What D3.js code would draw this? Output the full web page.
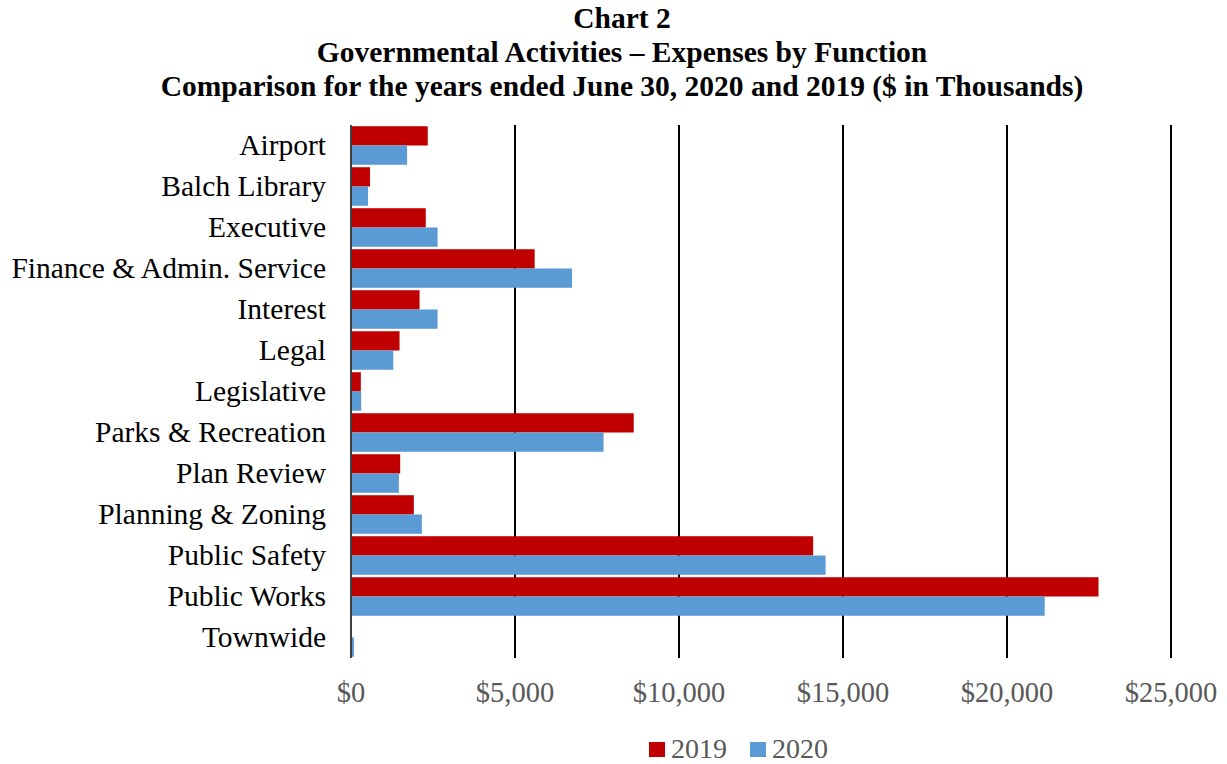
<!DOCTYPE html>
<html>
<head>
<meta charset="utf-8">
<script src="https://cdn.jsdelivr.net/npm/d3@7"></script>
<style>
  body { margin: 0; background: #fff; }
  text { font-family: 'Liberation Serif', 'Times New Roman', serif; }
</style>
</head>
<body>
<div id="chart"></div>
<script>
// categories and values ($ in thousands)
var categories = ['Airport', 'Balch Library', 'Executive', 'Finance & Admin. Service', 'Interest',
  'Legal', 'Legislative', 'Parks & Recreation', 'Plan Review', 'Planning & Zoning',
  'Public Safety', 'Public Works', 'Townwide']
var values2019 = [2340, 580, 2280, 5600, 2090, 1480, 300, 8620, 1500, 1915, 14090, 22790, 0]
var values2020 = [1710, 520, 2640, 6740, 2640, 1290, 310, 7700, 1460, 2160, 14470, 21150, 90]
var seriesNames = ['2019', '2020']
var seriesColours = ['#C00000', '#5B9BD5']
var xTicks = [0, 5000, 10000, 15000, 20000, 25000]
var titleLines = ['Chart 2',
  'Governmental Activities \u2013 Expenses by Function',
  'Comparison for the years ended June 30, 2020 and 2019 ($ in Thousands)']

var W = 1227
var H = 764
var margin = { top: 125, right: 56, bottom: 106, left: 351 }
var width = W - margin.left - margin.right
var height = H - margin.top - margin.bottom

var svg = d3.select('#chart').append('svg')
  .attr('width', W)
  .attr('height', H)

// title
svg.selectAll('.title')
  .data(titleLines)
  .enter().append('text')
  .attr('class', 'title')
  .attr('x', 622)
  .attr('y', function (d, i) { return 28 + i * 34 })
  .attr('text-anchor', 'middle')
  .style('font-weight', 'bold')
  .style('font-size', '29.5px')
  .text(function (d) { return d })

var g = svg.append('g')
  .attr('transform', 'translate(' + margin.left + ',' + margin.top + ')')

var x = d3.scaleLinear().domain([0, 25000]).range([0, width])
var y = d3.scaleBand().domain(categories).range([0, height]).paddingInner(0.06).paddingOuter(0.03)
var ySub = d3.scaleBand().domain(seriesNames).range([0, y.bandwidth()])

// vertical gridlines
g.selectAll('.grid')
  .data(xTicks.filter(function (d) { return d > 0 }))
  .enter().append('line')
  .attr('class', 'grid')
  .attr('x1', function (d) { return x(d) })
  .attr('x2', function (d) { return x(d) })
  .attr('y1', 0)
  .attr('y2', height)
  .attr('stroke', '#000')
  .attr('stroke-width', 2)

// bars
var data = []
categories.forEach(function (c, i) {
  data.push({ cat: c, s: '2019', v: values2019[i] })
  data.push({ cat: c, s: '2020', v: values2020[i] })
})

g.selectAll('.bar')
  .data(data)
  .enter().append('rect')
  .attr('class', 'bar')
  .attr('x', x(0))
  .attr('y', function (d) { return y(d.cat) + ySub(d.s) })
  .attr('width', function (d) { return x(d.v) - x(0) })
  .attr('height', ySub.bandwidth())
  .attr('fill', function (d) { return seriesColours[seriesNames.indexOf(d.s)] })

// category axis line
g.append('line')
  .attr('x1', 0).attr('x2', 0)
  .attr('y1', 0).attr('y2', height)
  .attr('stroke', '#404040')
  .attr('stroke-width', 2)

// category labels
g.selectAll('.cat')
  .data(categories)
  .enter().append('text')
  .attr('class', 'cat')
  .attr('x', -25)
  .attr('y', function (d) { return y(d) + y.bandwidth() / 2 - 1 })
  .attr('dy', '0.35em')
  .attr('text-anchor', 'end')
  .style('font-size', '29.5px')
  .attr('fill', '#000')
  .text(function (d) { return d })

// x tick labels
var fmt = d3.format('$,')
g.selectAll('.xtick')
  .data(xTicks)
  .enter().append('text')
  .attr('class', 'xtick')
  .attr('x', function (d) { return x(d) })
  .attr('y', height + 44)
  .attr('text-anchor', 'middle')
  .style('font-size', '28.5px')
  .attr('fill', '#595959')
  .text(function (d) { return fmt(d) })

// legend
var legend = svg.selectAll('.legend')
  .data(seriesNames)
  .enter().append('g')
  .attr('class', 'legend')
  .attr('transform', function (d, i) { return 'translate(' + (649 + i * 101) + ',742)' })

legend.append('rect')
  .attr('width', 16)
  .attr('height', 15)
  .attr('fill', function (d, i) { return seriesColours[i] })

legend.append('text')
  .attr('x', 22)
  .attr('y', 16)
  .style('font-size', '28px')
  .attr('fill', '#595959')
  .text(function (d) { return d })
</script>
</body>
</html>
